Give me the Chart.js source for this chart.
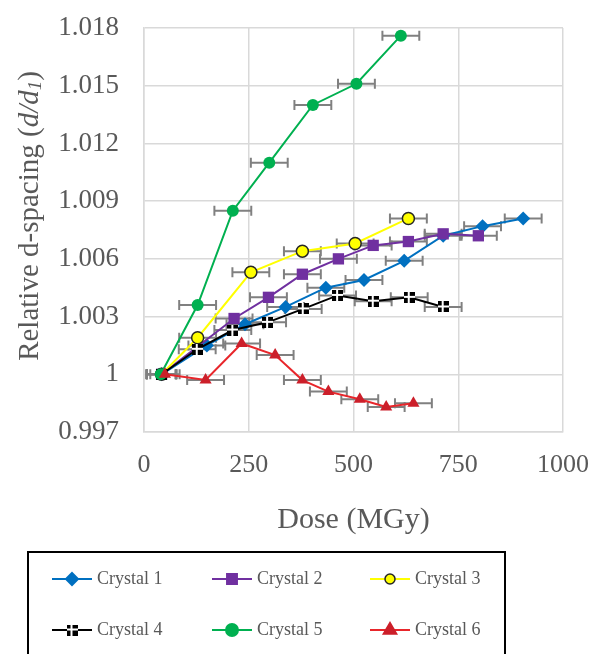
<!DOCTYPE html>
<html>
<head>
<meta charset="utf-8">
<script src="https://cdn.jsdelivr.net/npm/chart.js@4.4.1/dist/chart.umd.min.js"></script>
<style>
    body { margin: 0; background: #fff; }
    #wrap { width: 593px; height: 654px; position: relative; }
</style>
</head>
<body>
<div id="wrap"><canvas id="doseChart"></canvas></div>
<script>
// Dose (MGy), relative d-spacing and dose error for each crystal
const doses1 = [42, 150, 241, 338, 434, 525, 621, 714, 808, 905];
const vals1 = [1.0000, 1.0015, 1.0026, 1.0035, 1.0045, 1.0049, 1.0059, 1.0072, 1.0077, 1.0081];
const errs1 = [35, 44, 44, 44, 44, 44, 44, 44, 44, 44];

const doses2 = [42, 215, 297, 378, 464, 547, 631, 714, 798];
const vals2 = [1.0000, 1.0029, 1.0040, 1.0052, 1.0060, 1.0067, 1.0069, 1.0073, 1.0072];
const errs2 = [35, 44, 44, 44, 44, 44, 44, 44, 44];

const doses3 = [42, 128, 255, 378, 504, 631];
const vals3 = [1.0000, 1.0019, 1.0053, 1.0064, 1.0068, 1.0081];
const errs3 = [35, 44, 44, 44, 44, 44];

const doses4 = [42, 127, 212, 295, 380, 462, 547, 633, 714];
const vals4 = [1.0000, 1.0013, 1.0023, 1.0027, 1.0034, 1.0041, 1.0038, 1.0040, 1.0035];
const errs4 = [35, 44, 44, 44, 44, 44, 44, 44, 44];

const doses5 = [40, 128, 212, 299, 403, 507, 613];
const vals5 = [1.0000, 1.0036, 1.0085, 1.0110, 1.0140, 1.0151, 1.0176];
const errs5 = [35, 44, 44, 44, 44, 44, 44];

const doses6 = [50, 147, 233, 313, 378, 440, 515, 578, 643];
const vals6 = [1.0000, 0.9997, 1.0016, 1.0010, 0.9997, 0.9991, 0.9987, 0.9983, 0.9985];
const errs6 = [35, 44, 44, 44, 44, 44, 44, 44, 44];

const seriesNames = ['Crystal 1', 'Crystal 2', 'Crystal 3', 'Crystal 4', 'Crystal 5', 'Crystal 6'];

const FONT = "'Liberation Serif', 'Times New Roman', serif";
const GREY_TEXT = '#595959';

// black square with a white cross, like the Excel marker for crystal 4
const crossMarker = (size) => {
    const c = document.createElement('canvas');
    c.width = size;
    c.height = size;
    const g = c.getContext('2d');
    g.fillStyle = '#000';
    g.fillRect(0, 0, size, size);
    g.fillStyle = '#fff';
    const mid = Math.floor(size / 2);
    g.fillRect(mid - 1, 0, 2, size);
    g.fillRect(0, mid - 1, size, 2);
    return c;
};

const toPoints = (xs, ys, es) => xs.map((x, i) => ({ x: x, y: ys[i], err: es[i] }));

const makeSet = (i, xs, ys, es, line, style) => Object.assign({
    label: seriesNames[i],
    data: toPoints(xs, ys, es),
    showLine: true,
    borderColor: line,
    borderWidth: 2,
    order: 6 - i, // later crystals drawn on top like Excel
}, style);

const datasets = [
    makeSet(0, doses1, vals1, errs1, '#0070c0', {
        pointStyle: 'rectRot', pointRadius: 7, pointBackgroundColor: '#0070c0', pointBorderColor: '#0070c0', pointBorderWidth: 0
    }),
    makeSet(1, doses2, vals2, errs2, '#7030a0', {
        pointStyle: 'rect', pointRadius: 8, pointBackgroundColor: '#7030a0', pointBorderColor: '#7030a0', pointBorderWidth: 0
    }),
    makeSet(2, doses3, vals3, errs3, '#ffff00', {
        pointStyle: 'circle', pointRadius: 6, pointBackgroundColor: '#ffff00', pointBorderColor: '#262626', pointBorderWidth: 1.5
    }),
    makeSet(3, doses4, vals4, errs4, '#000000', {
        pointStyle: crossMarker(11), pointRadius: 6
    }),
    makeSet(4, doses5, vals5, errs5, '#00b050', {
        pointStyle: 'circle', pointRadius: 6, pointBackgroundColor: '#00b050', pointBorderColor: '#00b050', pointBorderWidth: 0
    }),
    makeSet(5, doses6, vals6, errs6, '#e8262b', {
        pointStyle: 'triangle', pointRadius: 7, pointBackgroundColor: '#cc1f2a', pointBorderColor: '#cc1f2a', pointBorderWidth: 0
    }),
];

// horizontal error bars on dose
const errorBars = {
    id: 'errorBars',
    beforeDatasetsDraw: (chart) => {
        const ctx = chart.ctx;
        const xs = chart.scales.x;
        const ys = chart.scales.y;
        ctx.save();
        ctx.strokeStyle = '#808080';
        ctx.lineWidth = 2;
        chart.data.datasets.forEach(ds => {
            ds.data.forEach(p => {
                const y = ys.getPixelForValue(p.y);
                const x0 = xs.getPixelForValue(p.x - p.err);
                const x1 = xs.getPixelForValue(p.x + p.err);
                ctx.beginPath();
                ctx.moveTo(x0, y);
                ctx.lineTo(x1, y);
                ctx.moveTo(x0, y - 5);
                ctx.lineTo(x0, y + 5);
                ctx.moveTo(x1, y - 5);
                ctx.lineTo(x1, y + 5);
                ctx.stroke();
            });
        });
        ctx.restore();
    }
};

// y title with italic d/d1
const yTitle = {
    id: 'yTitle',
    afterDraw: (chart) => {
        const ctx = chart.ctx;
        const size = 29;
        const parts = [
            { t: 'Relative d-spacing (', f: `${size}px ${FONT}`, dy: 0 },
            { t: 'd/d', f: `italic ${size}px ${FONT}`, dy: 0 },
            { t: '1', f: `italic ${Math.round(size * 0.65)}px ${FONT}`, dy: 6 },
            { t: ')', f: `${size}px ${FONT}`, dy: 0 },
        ];
        let total = 0;
        parts.forEach(p => {
            ctx.font = p.f;
            p.w = ctx.measureText(p.t).width;
            total += p.w;
        });
        ctx.save();
        ctx.translate(30, 216);
        ctx.rotate(-Math.PI / 2);
        ctx.fillStyle = GREY_TEXT;
        ctx.textBaseline = 'middle';
        let x = -total / 2;
        parts.forEach(p => {
            ctx.font = p.f;
            ctx.fillText(p.t, x, p.dy);
            x += p.w;
        });
        ctx.restore();
    }
};

const drawMarker = (ctx, ds, x, y, r) => {
    ctx.save();
    ctx.fillStyle = ds.pointBackgroundColor;
    ctx.strokeStyle = ds.pointBorderColor;
    ctx.lineWidth = ds.pointBorderWidth || 0;
    const st = ds.pointStyle;
    ctx.beginPath();
    if (typeof st !== 'string') {
        ctx.drawImage(st, x - st.width / 2, y - st.height / 2);
        ctx.restore();
        return;
    }
    if (st === 'rectRot') {
        ctx.moveTo(x, y - r); ctx.lineTo(x + r, y); ctx.lineTo(x, y + r); ctx.lineTo(x - r, y);
    } else if (st === 'rect') {
        const s = r * Math.SQRT1_2;
        ctx.rect(x - s, y - s, 2 * s, 2 * s);
    } else if (st === 'triangle') {
        ctx.moveTo(x, y - r); ctx.lineTo(x + r * 0.9, y + r * 0.55); ctx.lineTo(x - r * 0.9, y + r * 0.55);
    } else {
        ctx.arc(x, y, r, 0, Math.PI * 2);
    }
    ctx.closePath();
    ctx.fill();
    if (ctx.lineWidth > 0) ctx.stroke();
    ctx.restore();
};

// boxed legend below the plot, 3 columns x 2 rows
const boxLegend = {
    id: 'boxLegend',
    afterDraw: (chart) => {
        const ctx = chart.ctx;
        ctx.save();
        ctx.strokeStyle = '#000';
        ctx.lineWidth = 2;
        ctx.strokeRect(28, 552, 477, 120);
        const cols = [52, 212, 370];
        const rows = [579, 630];
        const radii = [6, 7, 5, 0, 6, 7];
        chart.data.datasets.forEach((ds, i) => {
            const x = cols[i % 3];
            const y = rows[Math.floor(i / 3)];
            ctx.strokeStyle = ds.borderColor;
            ctx.lineWidth = 2;
            ctx.beginPath();
            ctx.moveTo(x, y);
            ctx.lineTo(x + 40, y);
            ctx.stroke();
            drawMarker(ctx, ds, x + 20, y, radii[i]);
            ctx.fillStyle = GREY_TEXT;
            ctx.font = `18px ${FONT}`;
            ctx.textBaseline = 'middle';
            ctx.fillText(ds.label, x + 45, y);
        });
        ctx.restore();
    }
};

const ctx = document.getElementById('doseChart').getContext('2d');

new Chart(ctx, {
    type: 'scatter',
    data: { datasets: datasets },
    plugins: [errorBars, yTitle, boxLegend],
    options: {
        responsive: true,
        maintainAspectRatio: false,
        animation: false,
        layout: {
            padding: { left: 0, top: 28, right: 30, bottom: 112 }
        },
        plugins: {
            legend: { display: false },
            tooltip: { enabled: false }
        },
        scales: {
            x: {
                type: 'linear',
                min: 0,
                max: 1000,
                afterFit: (scale) => {
                    scale.height = 110;
                    scale.paddingLeft = 0;
                    scale.paddingRight = 0;
                },
                ticks: {
                    stepSize: 250,
                    padding: 18,
                    color: GREY_TEXT,
                    font: { family: FONT, size: 26 },
                    callback: (v) => String(v)
                },
                grid: { color: '#d9d9d9', lineWidth: 1.5, drawTicks: false },
                border: { color: '#d9d9d9', width: 1.5 },
                title: {
                    display: true,
                    text: 'Dose (MGy)',
                    color: GREY_TEXT,
                    font: { family: FONT, size: 30 },
                    padding: { top: 0, bottom: 4 }
                }
            },
            y: {
                min: 0.997,
                max: 1.018,
                afterFit: (scale) => {
                    scale.width = 144;
                    scale.paddingTop = 0;
                    scale.paddingBottom = 0;
                },
                ticks: {
                    stepSize: 0.003,
                    padding: 25,
                    color: GREY_TEXT,
                    font: { family: FONT, size: 27 },
                    callback: (v) => String(Number(v.toFixed(3)))
                },
                grid: { color: '#d9d9d9', lineWidth: 1.5, drawTicks: false },
                border: { color: '#d9d9d9', width: 1.5 }
            }
        }
    }
});
</script>
</body>
</html>
